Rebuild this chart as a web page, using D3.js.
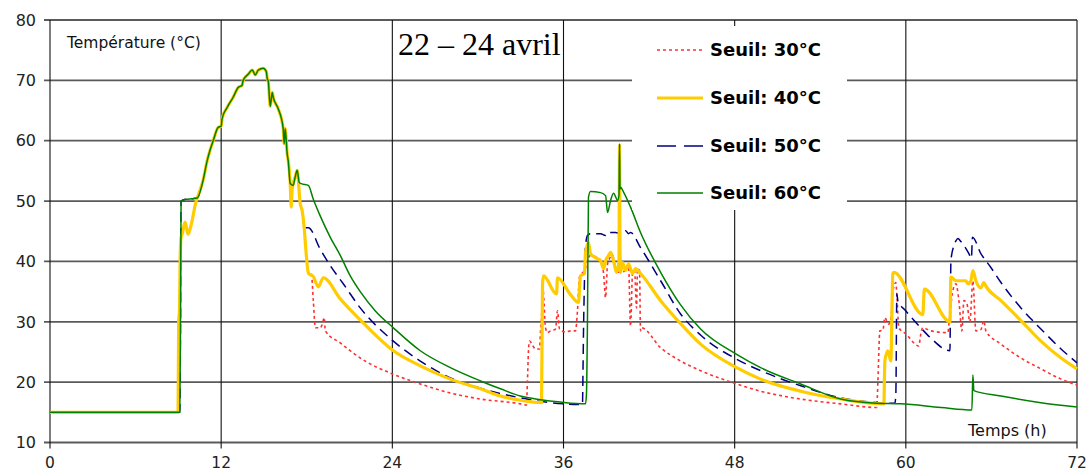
<!DOCTYPE html>
<html><head><meta charset="utf-8">
<script src="https://cdn.jsdelivr.net/npm/d3@7"></script>
<style>body{margin:0;background:#fff}svg{display:block}</style>
</head><body>
<svg id="c" width="1090" height="473"></svg>
<script>
// ---- data (time in hours, temperature in °C) ----
const xTicks = [0, 12, 24, 36, 48, 60, 72];
const yTicks = [10, 20, 30, 40, 50, 60, 70, 80];
const seriesNames = ["Seuil: 30°C", "Seuil: 40°C", "Seuil: 50°C", "Seuil: 60°C"];
const chartTitle = "22 – 24 avril";

const startGreen = [[0,15],[9.1,15],[9.15,30],[9.19,50],[9.5,50.3],[10.0,50.4]];
const startYellow = [[0,15],[8.98,15],[9.02,30],[9.08,32],[9.12,40],[9.19,44],[9.26,44.5],[9.47,46.5],[9.68,44.5],[9.89,46],[10.25,50]];
const commonRise = [[10.32,50.5],[10.74,53.5],[11.02,56.7],[11.23,58.5],[11.44,60],[11.79,62.2],[12.0,62.4],[12.07,63.7],[12.42,65.5],[12.84,67.2],[13.19,68.8],[13.47,69.2],[13.54,70],[13.89,71],[14.18,71.7],[14.39,70.9],[14.6,71.7],[14.95,72],[15.16,71.5],[15.23,70.3],[15.3,69.9],[15.44,65.7],[15.58,68],[15.65,67.2],[16.0,65.3],[16.35,62],[16.42,59.5],[16.49,62],[16.63,57.8],[16.7,56.7]];
const yellowDrop = [[16.84,53],[16.91,49],[16.98,52],[17.19,54],[17.33,55.1],[17.54,49.6],[17.68,48.4],[17.82,45.6]];
const sharedYR = [[17.96,41.3],[18.11,38.1]];

const tail40 = [[18.25,37.8],[18.46,37.5],[18.81,35.8],[19.16,37.3],[20.35,33.8],[21.75,30.3],[24.07,25.2],[25.96,22.7],[28.07,20.5],[30.18,18.9],[31.58,17.7],[32.98,17.0],[34.46,16.6],[34.53,36.3],[34.6,37.6],[35.51,34.6],[35.58,37.3],[36.49,34.5],[37.05,33.2],[37.19,37.6],[37.47,38],[37.54,41.3],[37.75,43.1],[37.89,41.3],[38.25,40.6],[38.6,40.1],[38.81,38.8],[38.95,40.1],[39.16,41],[39.3,41.5],[39.51,40.1],[39.72,38.2],[39.89,40],[39.93,59.2],[39.96,42],[40.0,38.2],[40.14,39.8],[40.35,38.5],[40.56,39.6],[40.84,38],[41.05,38.8],[41.4,38],[42.81,33.5],[44.21,29.7],[45.61,26.3],[48.14,22.4],[49.82,20.5],[52.63,18.5],[55.44,17.2],[58.46,16.4],[58.53,23.5],[58.74,25.2],[58.95,23.5],[59.09,38],[59.16,38.2],[61.19,31.2],[61.3,35.4],[63.09,30],[63.16,37.4],[63.51,36.8],[64.21,36.8],[64.35,36.3],[64.56,36.8],[64.7,38.5],[64.91,36.8],[65.26,35.6],[65.47,36.5],[65.61,35.9],[66.67,33.5],[68.07,30.2],[69.47,26.8],[70.88,24],[72,22.2]];

const tail30 = [[18.25,37.8],[18.32,38],[18.46,33.5],[18.6,29],[18.95,29],[19.09,29.6],[19.23,30.7],[19.3,28.5],[20.35,26.5],[21.75,24],[24.07,21.3],[25.96,19.7],[28.07,18.2],[30.18,17.2],[32.98,16.4],[33.4,16.2],[33.47,20],[33.54,25],[33.61,26.8],[34.04,25.5],[34.32,25.5],[34.39,28.5],[34.46,30.7],[34.53,36],[34.6,34.6],[34.74,29],[34.88,28.2],[35.09,28.5],[35.44,28.8],[35.58,31.8],[35.72,28.8],[36.14,28.3],[36.49,28.5],[36.84,28.5],[36.98,31.8],[37.12,37.4],[37.47,38.5],[37.89,41],[38.6,40.1],[38.81,38],[38.95,34],[39.09,39.6],[39.44,41],[39.72,38.2],[40.0,38.2],[40.35,38.5],[40.56,39.4],[40.7,29.3],[40.84,38],[40.98,38.5],[41.12,32.3],[41.19,38.8],[41.33,38.5],[41.4,28.5],[41.47,29],[42.81,25.7],[44.21,23.5],[45.61,21.9],[48.14,19.7],[49.82,18.5],[52.63,17.2],[55.44,16.4],[57.96,15.8],[58.04,20],[58.18,28.5],[58.39,28.6],[58.53,30.7],[58.67,30.1],[58.81,29.6],[58.95,30.5],[59.09,35],[59.3,36.5],[59.37,34.5],[59.51,29],[60.0,28],[60.91,26],[61.05,28],[61.19,29],[61.75,28.5],[62.95,28.2],[63.02,29.6],[63.3,35.2],[63.51,36.3],[63.72,33.5],[63.93,28.5],[64.07,33.5],[64.28,33],[64.49,30],[64.7,36.8],[64.91,28.5],[65.26,28.7],[65.47,30.2],[65.61,28.5],[66.67,26.3],[68.07,24],[69.47,22.2],[70.88,20.5],[72,19.5]];

const tail50 = [[18.11,45.6],[18.95,42],[19.65,39.3],[20.56,36.3],[21.75,32.3],[24.07,26.8],[25.96,23.5],[28.07,20.7],[30.18,19],[32.98,17.4],[34.74,16.7],[37.33,16.3],[37.37,22.4],[37.4,28],[37.47,36.8],[37.54,42.4],[37.68,44.3],[37.89,44.6],[38.6,44.6],[38.95,44.3],[39.09,44.8],[39.65,44.8],[40.0,44.6],[40.35,45.1],[40.56,44.6],[40.7,44.8],[41.4,42.3],[42.81,36.8],[44.21,31.3],[45.61,27.8],[48.14,23.8],[49.82,21.9],[52.63,19.4],[55.44,17.4],[57.54,16.7],[59.23,16.5],[59.3,18],[59.37,34.6],[59.44,33.5],[60.0,31.8],[61.05,29],[61.75,27.3],[63.09,25.2],[63.16,40.1],[63.37,42.6],[63.51,43.4],[63.65,43.8],[63.86,43.3],[64.42,41.3],[64.6,40.5],[64.67,44],[65.26,41.3],[65.96,39],[66.67,36.5],[68.07,32.3],[69.47,28.8],[70.88,25.5],[72,23.2]];

const tail60 = [[16.84,52.9],[17.05,52.6],[17.19,54],[17.33,55.1],[17.47,53.1],[17.61,52.9],[18.11,52.6],[18.46,50.3],[18.95,47.5],[19.65,44],[20.35,41],[21.05,37.6],[21.75,35],[22.81,31.8],[24.07,29],[25.96,25.2],[28.07,22.4],[30.18,20.2],[31.58,18.9],[32.98,17.7],[34.39,17.1],[35.79,16.7],[37.54,16.4],[37.61,18],[37.68,30.2],[37.75,50.6],[37.89,51.6],[38.6,51.4],[38.95,50.9],[39.09,48.1],[39.3,50.1],[39.51,51.3],[39.79,50.1],[39.89,51],[39.93,59.5],[39.96,52],[40.0,52.3],[40.21,51.5],[40.7,49],[41.4,44.8],[42.81,38.2],[44.21,32.8],[45.61,28.8],[48.14,24.6],[49.82,22.4],[52.63,19.7],[55.44,17.2],[57.96,16.5],[59.65,16.4],[62.46,15.8],[64.63,15.4],[64.7,21.2],[64.77,18.6],[66.67,17.7],[69.47,16.6],[72,15.9]];

const seuil30 = [].concat(startYellow, commonRise, yellowDrop, sharedYR, tail30);
const seuil40 = [].concat(startYellow, commonRise, yellowDrop, sharedYR, tail40);
const seuil50 = [].concat(startGreen, commonRise, yellowDrop, tail50);
const seuil60 = [].concat(startGreen, commonRise, tail60);

// ---- drawing ----
const svg = d3.select("#c");
const x = d3.scaleLinear().domain([0, 72]).range([50, 1077]);
const y = d3.scaleLinear().domain([10, 80]).range([442.5, 20]);

const styles = [
  {color:"#ff3030", width:1.6, dash:"3,3"},
  {color:"#ffcc00", width:3.2, dash:null},
  {color:"#000080", width:1.5, dash:"10,6"},
  {color:"#008000", width:1.5, dash:null}
];
const data = [seuil30, seuil40, seuil50, seuil60];

// horizontal grid lines (with left tick)
svg.append("g").selectAll("line").data(yTicks).join("line")
  .attr("x1", 44).attr("x2", x(72))
  .attr("y1", d => y(d)).attr("y2", d => y(d))
  .attr("stroke", "#5a5a5a").attr("stroke-width", 1.8);

// vertical grid lines (with bottom tick)
svg.append("g").selectAll("line").data(xTicks).join("line")
  .attr("x1", d => x(d)).attr("x2", d => x(d))
  .attr("y1", y(80)).attr("y2", y(10) + 6)
  .attr("stroke", "#111").attr("stroke-width", 1.1);

// y tick labels
svg.append("g").selectAll("text").data(yTicks).join("text")
  .attr("x", 36).attr("y", d => y(d)).attr("dy", "0.36em")
  .attr("text-anchor", "end")
  .attr("font-family", "DejaVu Sans, sans-serif").attr("font-size", 16)
  .attr("fill", "#222").text(d => d);

// x tick labels
svg.append("g").selectAll("text").data(xTicks).join("text")
  .attr("x", d => x(d)).attr("y", 468)
  .attr("text-anchor", "middle")
  .attr("font-family", "DejaVu Sans, sans-serif").attr("font-size", 15.5)
  .attr("fill", "#222").text(d => d);

// series (draw order: 30, 50, 40, 60)
const line = d3.line().x(d => x(d[0])).y(d => y(d[1])).curve(d3.curveMonotoneX);
[0, 2, 1, 3].forEach(i => {
  svg.append("path").datum(data[i])
    .attr("d", line).attr("fill", "none")
    .attr("stroke", styles[i].color).attr("stroke-width", styles[i].width)
    .attr("stroke-dasharray", styles[i].dash)
    .attr("stroke-linejoin", "round");
});

// axis titles
svg.append("text").attr("x", 67).attr("y", 48)
  .attr("font-family", "DejaVu Sans, sans-serif").attr("font-size", 15.5)
  .attr("fill", "#111").text("Température (°C)");
svg.append("text").attr("x", 968).attr("y", 436)
  .attr("font-family", "DejaVu Sans, sans-serif").attr("font-size", 16)
  .attr("fill", "#111").text("Temps (h)");

// title
svg.append("text").attr("x", 398).attr("y", 55)
  .attr("font-family", "Liberation Serif, Times New Roman, serif").attr("font-size", 32)
  .attr("fill", "#000").text(chartTitle);

// legend
const lg = svg.append("g");
lg.append("rect").attr("x", 632).attr("y", 26).attr("width", 215).attr("height", 184).attr("fill", "#fff");
const legY = [50, 98, 146, 193];
seriesNames.forEach((name, i) => {
  lg.append("line").attr("x1", 657).attr("x2", 703).attr("y1", legY[i]).attr("y2", legY[i])
    .attr("stroke", styles[i].color).attr("stroke-width", i === 1 ? 3 : 1.5)
    .attr("stroke-dasharray", i === 2 ? "19,8" : styles[i].dash);
  lg.append("text").attr("x", 710).attr("y", legY[i]).attr("dy", "0.36em")
    .attr("font-family", "DejaVu Sans, sans-serif").attr("font-weight", "bold").attr("font-size", 18)
    .attr("fill", "#000").text(name);
});
</script>
</body></html>
